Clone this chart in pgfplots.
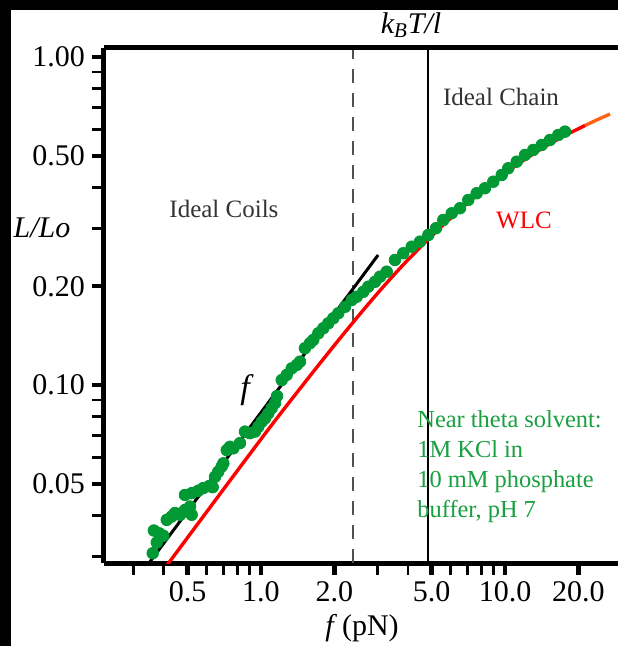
\documentclass[border=0pt]{standalone}
\usepackage{fontspec}
\setmainfont{Liberation Serif}
\usepackage{pgfplots}
\pgfplotsset{compat=1.18}
\definecolor{dotgreen}{RGB}{0,153,51}
\definecolor{txtgreen}{RGB}{25,160,65}
\definecolor{wlcred}{RGB}{255,0,0}
\definecolor{wlcorange}{RGB}{255,100,20}
\definecolor{dashgray}{RGB}{80,80,80}
\begin{document}
\begin{tikzpicture}
\useasboundingbox (0,0) rectangle (309pt,323pt);
\fill[black] (0,0) rectangle (309pt,323pt);
\fill[white] (5.5pt,0) rectangle (309pt,318pt);
\begin{axis}[
 name=ax,
 at={(52pt,41.5pt)}, anchor=south west,
 width=257pt, height=257.5pt, scale only axis,
 xmode=log, ymode=log,
 xmin=0.2273, xmax=29.05, ymin=0.02866, ymax=1.065,
 axis x line*=bottom, axis y line*=left,
 axis line style={line width=2.5pt, -},
 tick align=outside,
 xtick={0.5,1,2,5,10,20}, xticklabels={0.5,1.0,2.0,5.0,10.0,20.0},
 minor xtick={0.3,0.4,0.6,0.7,0.8,0.9,3,4,6,7,8,9},
 ytick={0.05,0.1,0.2,0.5,1}, yticklabels={0.05,0.10,0.20,0.50,1.00},
 minor ytick={0.03,0.04,0.06,0.07,0.08,0.09,0.3,0.4,0.6,0.7,0.8,0.9},
 major tick length=6pt, minor tick length=6pt,
 major tick style={line width=2.2pt, black},
 minor tick style={line width=1.4pt, black},
 tick label style={font=\fontsize{15}{18}\selectfont, black},
 /pgf/number format/assume math mode=true,
]
% reference lines
\addplot[dashgray, line width=1pt, dash pattern=on 7pt off 5pt, forget plot] coordinates {(2.383,0.02866) (2.383,1.065)};
\addplot[black, line width=0.8pt, forget plot] coordinates {(4.836,0.02866) (4.836,1.065)};
% WLC curve
\addplot[wlcred, line width=1.7pt, no marks, smooth] coordinates {
(0.40,0.0274) (1.0,0.0684) (1.5,0.101) (2.0,0.1322) (2.5,0.162) (3.0,0.1901)
(3.5,0.2163) (4.0,0.2407) (5.0,0.2845) (6.0,0.3232) (7.0,0.3577) (8.5,0.4035)
(10.0,0.442) (12.0,0.486) (14.0,0.523) (16.0,0.5547) (18.0,0.581) (21.3,0.6183)};
\addplot[wlcorange, line width=1.7pt, no marks, smooth] coordinates {
(21.3,0.6183) (24.0,0.6447) (26.94,0.670)};
% low-force linear fit
\addplot[black, line width=1.5pt, no marks] coordinates {(0.347,0.0286) (3.02,0.249)};
% data
\addplot[only marks, mark=*, mark size=2.9pt, color=dotgreen, mark options={fill=dotgreen, draw=dotgreen}] coordinates {
(0.360,0.0307) (0.364,0.0360) (0.374,0.0331) (0.383,0.0353) (0.398,0.0347)
(0.411,0.0388) (0.430,0.0397) (0.444,0.0407) (0.466,0.0402) (0.488,0.0416)
(0.512,0.0426) (0.520,0.0402) (0.488,0.0462) (0.520,0.0468) (0.553,0.0476)
(0.580,0.0485) (0.614,0.0492) (0.634,0.0488) (0.648,0.0525) (0.668,0.0544)
(0.690,0.0564) (0.701,0.0577) (0.724,0.0633) (0.746,0.0648) (0.770,0.0641)
(0.820,0.0665) (0.860,0.0721) (0.901,0.0713) (0.945,0.0721) (0.975,0.0746)
(1.007,0.0773) (1.038,0.0791) (1.071,0.0819) (1.106,0.0850) (1.141,0.0880)
(1.163,0.0925) (1.216,0.1035) (1.274,0.1073) (1.336,0.1124) (1.401,0.1151)
(1.445,0.1178) (1.514,0.1294) (1.588,0.1341) (1.638,0.1372) (1.718,0.1438)
(1.800,0.1489) (1.887,0.1542) (1.978,0.1597) (2.074,0.1655) (2.210,0.1732)
(2.353,0.1816) (2.467,0.1858) (2.626,0.1924) (2.753,0.1994) (2.933,0.2064)
(3.074,0.2139) (3.275,0.2215) (3.541,0.2405) (3.830,0.2521) (4.147,0.2640)
(4.483,0.2735) (4.850,0.2866) (5.215,0.3005) (5.586,0.3184) (6.047,0.3338)
(6.540,0.3458) (7.072,0.3665) (7.656,0.3842) (8.279,0.3979) (8.954,0.4166)
(9.694,0.4367) (10.31,0.4578) (11.17,0.4795) (12.08,0.5027) (13.06,0.5206)
(14.14,0.5392) (15.29,0.5584) (16.54,0.5783) (17.62,0.5920)};
% annotations
\node[font=\fontsize{12.5}{15}\selectfont, text=black!80] at (axis cs:0.705,0.344) {Ideal Coils};
\node[font=\fontsize{12.5}{15}\selectfont, text=black!80] at (axis cs:9.63,0.755) {Ideal Chain};
\node[font=\fontsize{12.5}{15}\selectfont, text=wlcred] at (axis cs:11.96,0.318) {WLC};
\node[font=\fontsize{17}{20}\selectfont\itshape] at (axis cs:0.86,0.0965) {f};
\node[font=\fontsize{12.2}{15}\selectfont, text=txtgreen, align=left, anchor=west, inner sep=0pt] at (axis cs:4.36,0.0562)
 {Near theta solvent:\\1M KCl in\\10 mM phosphate\\buffer, pH 7};
\end{axis}
\draw[line width=2.5pt] (ax.north west) -- (ax.north east);
\node[font=\fontsize{15}{18}\selectfont\itshape] at (205.5pt,310.5pt) {k\textsubscript{B}T/l};
\node[font=\fontsize{15}{18}\selectfont\itshape] at (21pt,209pt) {L/Lo};
\node[font=\fontsize{15}{18}\selectfont] at (181pt,9pt) {\textit{f}\,(pN)};
\end{tikzpicture}
\end{document}
